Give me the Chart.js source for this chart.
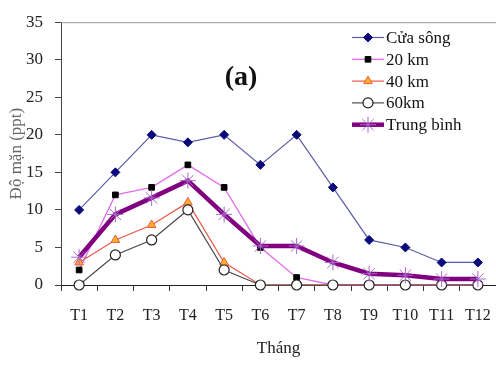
<!DOCTYPE html>
<html>
<head>
<meta charset="utf-8">
<script src="https://cdn.jsdelivr.net/npm/chart.js@4"></script>
<style>
  html, body { margin: 0; padding: 0; background: #fff; }
  canvas { display: block; }
</style>
</head>
<body>
<canvas id="doMan" width="496" height="365"></canvas>
<script>
// du lieu doc tu hinh
var thang = ['T1', 'T2', 'T3', 'T4', 'T5', 'T6', 'T7', 'T8', 'T9', 'T10', 'T11', 'T12'];
var cuaSong = [10, 15, 20, 19, 20, 16, 20, 13, 6, 5, 3, 3];
var km20 = [2, 12, 13, 16, 13, 5, 1, 0, 0, 0, 0, 0];
var km40 = [3, 6, 8, 11, 3, 0, 0, 0, 0, 0, 0, 0];
var km60 = [0, 4, 6, 10, 2, 0, 0, 0, 0, 0, 0, 0];
var trungBinh = [3.7, 9.4, 11.6, 13.9, 9.4, 5.2, 5.2, 3.0, 1.5, 1.3, 0.8, 0.8];
var tenSeries = ['Cửa sông', '20 km', '40 km', '60km', 'Trung bình'];

var serif = '"Liberation Serif", "Times New Roman", serif';

// legend ve tay (co duong + diem)
var legendTay = {
    id: 'legendTay',
    afterDraw: function (chart) {
        var ctx = chart.ctx;
        var thuTu = [0, 1, 2, 3, 4];
        ctx.save();
        thuTu.forEach(function (i, k) {
            var ds = chart.data.datasets[i];
            var y = 37.5 + k * 21.8;
            ctx.beginPath();
            ctx.strokeStyle = ds.borderColor;
            ctx.lineWidth = ds.borderWidth;
            ctx.moveTo(352, y);
            ctx.lineTo(384, y);
            ctx.stroke();
            ctx.fillStyle = ds.pointBackgroundColor;
            ctx.strokeStyle = ds.pointBorderColor;
            ctx.lineWidth = ds.pointBorderWidth;
            Chart.helpers.drawPoint(ctx, {
                pointStyle: ds.pointStyle,
                radius: ds.pointRadius,
                rotation: 0,
                borderWidth: ds.pointBorderWidth
            }, 368, y);
            ctx.fillStyle = '#111';
            ctx.font = '17px ' + serif;
            ctx.textAlign = 'left';
            ctx.textBaseline = 'middle';
            ctx.fillText(ds.label, 386, y + 1);
        });

        // chu (a)
        ctx.fillStyle = '#111';
        ctx.font = 'bold 28px ' + serif;
        ctx.textAlign = 'center';
        ctx.textBaseline = 'middle';
        ctx.fillText('(a)', 241, 78);

        // vien tren cua vung ve
        var a = chart.chartArea;
        ctx.beginPath();
        ctx.strokeStyle = '#9a9a9a';
        ctx.lineWidth = 1;
        ctx.moveTo(a.left, a.top + 0.5);
        ctx.lineTo(a.right, a.top + 0.5);
        ctx.stroke();
        ctx.restore();
    }
};

var config = {
    type: 'line',
    data: {
        labels: thang,
        datasets: [
            {
                label: tenSeries[0],
                data: cuaSong,
                borderColor: '#5c5ca6',
                borderWidth: 1.2,
                pointStyle: 'rectRot',
                pointRadius: 4.5,
                pointBackgroundColor: '#0a0a7a',
                pointBorderColor: '#0a0a7a',
                pointBorderWidth: 1,
                order: 4
            },
            {
                label: tenSeries[1],
                data: km20,
                borderColor: '#e070e8',
                borderWidth: 1.3,
                pointStyle: 'rect',
                pointRadius: 4,
                pointBackgroundColor: '#000',
                pointBorderColor: '#000',
                pointBorderWidth: 1,
                order: 3
            },
            {
                label: tenSeries[2],
                data: km40,
                borderColor: '#e85a4a',
                borderWidth: 1.2,
                pointStyle: 'triangle',
                pointRadius: 5,
                pointBackgroundColor: '#ffb020',
                pointBorderColor: '#e85a4a',
                pointBorderWidth: 1,
                order: 2
            },
            {
                label: tenSeries[3],
                data: km60,
                borderColor: '#4a4a4a',
                borderWidth: 1.2,
                pointStyle: 'circle',
                pointRadius: 5,
                pointBackgroundColor: '#fff',
                pointBorderColor: '#222',
                pointBorderWidth: 1.2,
                order: 1
            },
            {
                label: tenSeries[4],
                data: trungBinh,
                borderColor: '#800080',
                borderWidth: 4.5,
                pointStyle: 'star',
                pointRadius: 8,
                pointBackgroundColor: '#a868c8',
                pointBorderColor: '#a868c8',
                pointBorderWidth: 1,
                order: 0
            }
        ]
    },
    options: {
        responsive: false,
        devicePixelRatio: 1,
        animation: false,
        layout: {
            autoPadding: false,
            padding: { left: 0, right: -3, top: 18, bottom: 0 }
        },
        elements: {
            line: { tension: 0 }
        },
        datasets: {
            line: { clip: false }
        },
        plugins: {
            legend: { display: false },
            tooltip: { enabled: false }
        },
        scales: {
            x: {
                offset: true,
                grid: {
                    offset: true,
                    drawOnChartArea: false,
                    drawTicks: true,
                    tickLength: 6,
                    color: '#333'
                },
                border: { color: '#222', width: 1 },
                ticks: {
                    color: '#222',
                    padding: 3,
                    maxRotation: 0,
                    font: { family: serif, size: 16, lineHeight: 2.7 }
                },
                title: {
                    display: true,
                    text: 'Tháng',
                    color: '#222',
                    padding: { top: 0, bottom: 6 },
                    font: { family: serif, size: 17 }
                },
                afterFit: function (scale) {
                    scale.height = 80;
                    scale.paddingLeft = 0;
                    scale.paddingRight = 0;
                }
            },
            y: {
                min: 0,
                max: 35,
                grid: {
                    drawOnChartArea: false,
                    tickLength: 6,
                    color: '#444'
                },
                border: { color: '#444', width: 1 },
                ticks: {
                    stepSize: 5,
                    color: '#222',
                    padding: 12,
                    font: { family: serif, size: 17 }
                },
                title: {
                    display: true,
                    text: 'Độ mặn (ppt)',
                    color: '#666',
                    padding: { top: 6, bottom: 0 },
                    font: { family: serif, size: 17 }
                },
                afterFit: function (scale) { scale.width = 61; }
            }
        }
    },
    plugins: [legendTay]
};

var ctx = document.getElementById('doMan').getContext('2d');
window.graficoDoMan = new Chart(ctx, config);
</script>
</body>
</html>
